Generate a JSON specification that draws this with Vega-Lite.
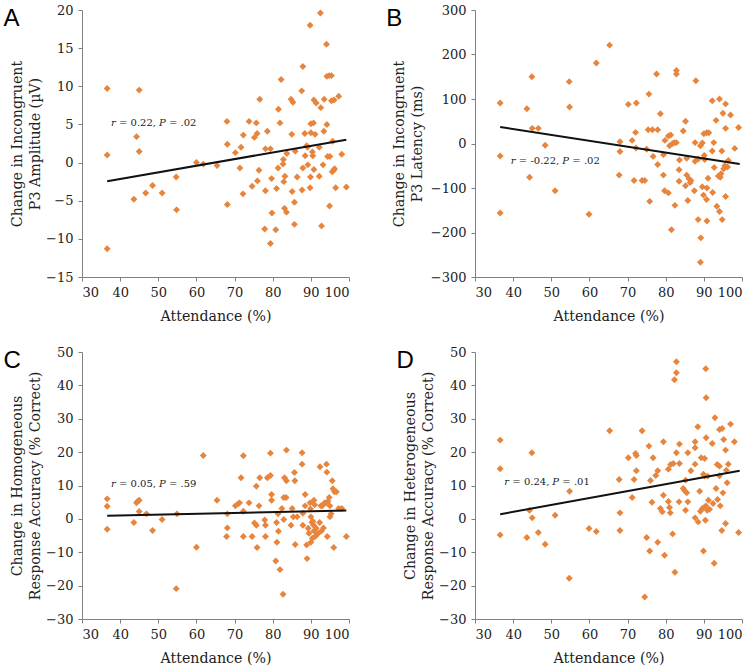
{
  "$schema": "https://vega.github.io/schema/vega-lite/v6.json",
  "background": "white",
  "padding": {"left": 3, "top": 4, "right": 0, "bottom": 0},
  "config": {
    "view": {"stroke": null},
    "axis": {
      "grid": false,
      "domainColor": "#808080",
      "tickColor": "#808080",
      "tickSize": 4,
      "labelFont": "DejaVu Serif",
      "labelFontSize": 13,
      "labelColor": "#222222",
      "titleFont": "DejaVu Serif",
      "titleFontSize": 14.2,
      "titleFontWeight": "normal",
      "titleColor": "#222222",
      "titleLineHeight": 18
    },
    "axisX": {"labelPadding": 5, "titlePadding": 10},
    "axisY": {"labelPadding": 5, "titlePadding": 3.5},
    "title": {"anchor": "start", "frame": "bounds", "font": "Liberation Sans", "fontSize": 24, "fontWeight": "normal", "color": "#000000", "offset": -27},
    "point": {"shape": "diamond", "filled": true, "size": 48, "color": "#e8853d", "opacity": 1},
    "line": {"color": "#111111", "strokeWidth": 2},
    "text": {"font": "DejaVu Serif", "fontSize": 10, "color": "#222222", "align": "left", "baseline": "middle"}
  },
  "datasets": {
    "pointsA": [
      {"attendance":36.6,"change":9.7},{"attendance":36.6,"change":1.0},{"attendance":36.6,"change":-11.3},{"attendance":45.0,"change":9.5},{"attendance":44.3,"change":3.4},{"attendance":45.0,"change":1.45},{"attendance":43.6,"change":-4.8},{"attendance":46.7,"change":-4.0},{"attendance":48.5,"change":-3.0},{"attendance":51.0,"change":-4.0},{"attendance":54.7,"change":-1.9},{"attendance":54.8,"change":-6.2},{"attendance":60.0,"change":0.0},{"attendance":61.8,"change":-0.2},{"attendance":65.4,"change":-0.4},{"attendance":68.0,"change":5.4},{"attendance":68.1,"change":2.4},{"attendance":68.1,"change":-5.5},{"attendance":70.2,"change":1.3},{"attendance":71.4,"change":-0.7},{"attendance":71.7,"change":2.0},{"attendance":72.3,"change":3.6},{"attendance":72.2,"change":-4.1},{"attendance":73.8,"change":5.4},{"attendance":74.6,"change":-3.1},{"attendance":75.2,"change":3.3},{"attendance":75.7,"change":5.2},{"attendance":75.9,"change":3.8},{"attendance":76.0,"change":-2.4},{"attendance":76.4,"change":-1.0},{"attendance":76.6,"change":8.3},{"attendance":77.9,"change":-8.7},{"attendance":78.1,"change":-3.7},{"attendance":78.1,"change":1.8},{"attendance":78.6,"change":4.1},{"attendance":79.4,"change":1.8},{"attendance":79.7,"change":-2.1},{"attendance":79.8,"change":-6.6},{"attendance":79.4,"change":-10.6},{"attendance":80.8,"change":-8.8},{"attendance":81.0,"change":-3.4},{"attendance":81.4,"change":-0.7},{"attendance":81.5,"change":7.0},{"attendance":81.9,"change":5.2},{"attendance":82.2,"change":10.9},{"attendance":82.7,"change":-0.2},{"attendance":82.8,"change":0.4},{"attendance":82.9,"change":-2.5},{"attendance":83.2,"change":-1.8},{"attendance":83.1,"change":-6.0},{"attendance":83.6,"change":-6.5},{"attendance":83.7,"change":1.2},{"attendance":84.8,"change":8.3},{"attendance":85.0,"change":3.7},{"attendance":85.1,"change":-3.8},{"attendance":85.3,"change":7.9},{"attendance":85.7,"change":-5.2},{"attendance":85.7,"change":-8.1},{"attendance":85.9,"change":1.5},{"attendance":86.4,"change":-1.9},{"attendance":87.6,"change":9.4},{"attendance":87.9,"change":12.6},{"attendance":87.7,"change":-3.6},{"attendance":87.9,"change":-0.7},{"attendance":88.4,"change":3.8},{"attendance":88.5,"change":0.9},{"attendance":88.9,"change":2.2},{"attendance":89.1,"change":2.0},{"attendance":89.2,"change":-0.3},{"attendance":89.8,"change":18.0},{"attendance":89.8,"change":-3.3},{"attendance":89.9,"change":-1.9},{"attendance":90.0,"change":3.9},{"attendance":90.0,"change":5.1},{"attendance":90.4,"change":1.4},{"attendance":90.5,"change":0.9},{"attendance":90.7,"change":5.2},{"attendance":90.8,"change":8.2},{"attendance":90.8,"change":-0.9},{"attendance":91.1,"change":3.7},{"attendance":91.4,"change":7.8},{"attendance":92.2,"change":2.0},{"attendance":92.2,"change":-1.8},{"attendance":92.5,"change":19.6},{"attendance":92.6,"change":7.2},{"attendance":92.8,"change":-8.3},{"attendance":93.2,"change":-0.3},{"attendance":93.4,"change":4.1},{"attendance":93.5,"change":8.3},{"attendance":94.1,"change":15.5},{"attendance":94.2,"change":11.3},{"attendance":94.2,"change":5.0},{"attendance":94.4,"change":0.8},{"attendance":94.8,"change":11.4},{"attendance":94.9,"change":-5.7},{"attendance":95.0,"change":0.8},{"attendance":95.4,"change":11.4},{"attendance":95.4,"change":8.1},{"attendance":95.7,"change":2.8},{"attendance":95.6,"change":-1.2},{"attendance":96.0,"change":-1.0},{"attendance":96.2,"change":-0.8},{"attendance":96.5,"change":-3.3},{"attendance":97.3,"change":8.7},{"attendance":98.1,"change":1.1},{"attendance":99.3,"change":-3.2},{"attendance":96.1,"change":8.2}
    ],
    "pointsB": [
      {"attendance":36.6,"change":91},{"attendance":36.6,"change":-28},{"attendance":36.6,"change":-156},{"attendance":43.6,"change":78},{"attendance":44.9,"change":150},{"attendance":44.3,"change":-76},{"attendance":45.0,"change":34},{"attendance":46.6,"change":34},{"attendance":48.4,"change":-4},{"attendance":51.0,"change":-106},{"attendance":54.7,"change":139},{"attendance":54.8,"change":82},{"attendance":59.9,"change":-159},{"attendance":61.8,"change":181},{"attendance":65.3,"change":221},{"attendance":68.0,"change":4},{"attendance":68.0,"change":-18},{"attendance":67.8,"change":-71},{"attendance":70.2,"change":88},{"attendance":71.2,"change":7},{"attendance":71.7,"change":-83},{"attendance":72.3,"change":91},{"attendance":72.1,"change":25},{"attendance":72.2,"change":-10},{"attendance":73.8,"change":-83},{"attendance":74.5,"change":-83},{"attendance":75.0,"change":-13},{"attendance":75.6,"change":111},{"attendance":75.4,"change":31},{"attendance":75.8,"change":-130},{"attendance":76.5,"change":31},{"attendance":76.7,"change":-29},{"attendance":77.6,"change":156},{"attendance":77.9,"change":31},{"attendance":77.9,"change":-47},{"attendance":78.6,"change":67},{"attendance":79.4,"change":-25},{"attendance":79.4,"change":-71},{"attendance":79.8,"change":7},{"attendance":79.7,"change":-106},{"attendance":80.7,"change":17},{"attendance":80.7,"change":-111},{"attendance":81.0,"change":-5},{"attendance":81.3,"change":19},{"attendance":81.5,"change":-194},{"attendance":81.8,"change":0},{"attendance":82.3,"change":2},{"attendance":82.4,"change":-139},{"attendance":82.8,"change":2},{"attendance":82.8,"change":164},{"attendance":82.8,"change":156},{"attendance":83.5,"change":-85},{"attendance":83.5,"change":-59},{"attendance":83.6,"change":-37},{"attendance":84.6,"change":28},{"attendance":85.2,"change":50},{"attendance":85.2,"change":-95},{"attendance":85.5,"change":-33},{"attendance":85.5,"change":-71},{"attendance":85.8,"change":-128},{"attendance":86.1,"change":-79},{"attendance":86.4,"change":-88},{"attendance":86.6,"change":-83},{"attendance":87.5,"change":-106},{"attendance":87.7,"change":-40},{"attendance":87.9,"change":141},{"attendance":87.7,"change":2},{"attendance":88.5,"change":-35},{"attendance":88.5,"change":-171},{"attendance":89.1,"change":-5},{"attendance":89.2,"change":-212},{"attendance":89.1,"change":-267},{"attendance":89.6,"change":-97},{"attendance":89.6,"change":1},{"attendance":89.9,"change":-116},{"attendance":90.0,"change":22},{"attendance":90.1,"change":-27},{"attendance":90.2,"change":-36},{"attendance":90.7,"change":24},{"attendance":90.7,"change":-126},{"attendance":90.8,"change":-100},{"attendance":90.8,"change":-174},{"attendance":91.1,"change":-78},{"attendance":91.3,"change":24},{"attendance":92.2,"change":96},{"attendance":92.2,"change":-17},{"attendance":92.3,"change":-110},{"attendance":92.6,"change":2},{"attendance":92.7,"change":-54},{"attendance":93.2,"change":52},{"attendance":93.4,"change":-141},{"attendance":93.8,"change":-73},{"attendance":94.1,"change":100},{"attendance":94.1,"change":-153},{"attendance":94.3,"change":-76},{"attendance":94.5,"change":-68},{"attendance":94.7,"change":-17},{"attendance":94.8,"change":-171},{"attendance":95.0,"change":68},{"attendance":95.2,"change":-57},{"attendance":95.5,"change":-50},{"attendance":95.7,"change":89},{"attendance":95.7,"change":34},{"attendance":95.7,"change":-119},{"attendance":96.2,"change":-53},{"attendance":96.4,"change":-38},{"attendance":97.0,"change":64},{"attendance":98.1,"change":-11},{"attendance":99.1,"change":36}
    ],
    "pointsC": [
      {"attendance":36.6,"change":6.0},{"attendance":36.6,"change":3.8},{"attendance":36.6,"change":-3.1},{"attendance":43.6,"change":-1.1},{"attendance":44.3,"change":4.8},{"attendance":44.6,"change":5.3},{"attendance":45.0,"change":5.6},{"attendance":45.0,"change":2.2},{"attendance":46.9,"change":1.5},{"attendance":48.5,"change":-3.5},{"attendance":51.0,"change":-0.2},{"attendance":54.9,"change":1.5},{"attendance":54.7,"change":-20.9},{"attendance":60.0,"change":-8.5},{"attendance":61.8,"change":19.0},{"attendance":65.4,"change":5.6},{"attendance":68.1,"change":1.5},{"attendance":68.1,"change":-2.7},{"attendance":67.9,"change":-5.3},{"attendance":70.2,"change":3.9},{"attendance":70.9,"change":4.5},{"attendance":71.3,"change":4.8},{"attendance":71.7,"change":12.3},{"attendance":72.3,"change":18.9},{"attendance":72.3,"change":2.3},{"attendance":72.3,"change":-5.3},{"attendance":73.8,"change":4.8},{"attendance":74.6,"change":-5.3},{"attendance":75.2,"change":-1.2},{"attendance":75.7,"change":9.8},{"attendance":75.7,"change":-1.9},{"attendance":75.9,"change":-8.6},{"attendance":76.4,"change":3.9},{"attendance":76.6,"change":12.3},{"attendance":77.9,"change":-0.3},{"attendance":78.1,"change":-1.9},{"attendance":78.1,"change":-5.3},{"attendance":78.6,"change":12.3},{"attendance":79.4,"change":19.7},{"attendance":79.4,"change":13.0},{"attendance":79.7,"change":7.3},{"attendance":79.7,"change":5.6},{"attendance":80.8,"change":-12.6},{"attendance":81.0,"change":-1.1},{"attendance":81.1,"change":-7.0},{"attendance":81.4,"change":1.5},{"attendance":81.5,"change":-3.7},{"attendance":81.9,"change":-15.2},{"attendance":82.4,"change":3.1},{"attendance":82.7,"change":-22.6},{"attendance":82.9,"change":-0.2},{"attendance":82.9,"change":6.4},{"attendance":83.1,"change":12.3},{"attendance":83.5,"change":6.4},{"attendance":83.6,"change":20.6},{"attendance":83.6,"change":11.4},{"attendance":84.8,"change":-1.9},{"attendance":85.1,"change":3.1},{"attendance":85.4,"change":0.6},{"attendance":85.7,"change":13.9},{"attendance":85.8,"change":11.4},{"attendance":85.9,"change":-7.7},{"attendance":86.4,"change":0.6},{"attendance":87.7,"change":19.8},{"attendance":87.7,"change":16.4},{"attendance":87.9,"change":-1.9},{"attendance":87.9,"change":1.7},{"attendance":88.5,"change":7.3},{"attendance":88.5,"change":3.9},{"attendance":88.9,"change":-7.8},{"attendance":89.0,"change":-11.9},{"attendance":89.3,"change":-2.8},{"attendance":89.5,"change":-4.3},{"attendance":89.8,"change":4.8},{"attendance":89.9,"change":3.0},{"attendance":90.0,"change":-7.0},{"attendance":90.0,"change":0.6},{"attendance":90.3,"change":-1.1},{"attendance":90.4,"change":-5.8},{"attendance":90.5,"change":-0.7},{"attendance":90.7,"change":-1.9},{"attendance":90.8,"change":5.6},{"attendance":90.8,"change":-3.6},{"attendance":91.0,"change":4.2},{"attendance":91.2,"change":-5.2},{"attendance":91.4,"change":-2.8},{"attendance":91.9,"change":-4.4},{"attendance":92.3,"change":-1.1},{"attendance":92.4,"change":15.6},{"attendance":92.6,"change":3.9},{"attendance":92.8,"change":-3.6},{"attendance":93.0,"change":3.9},{"attendance":93.3,"change":-2.7},{"attendance":93.6,"change":4.8},{"attendance":94.0,"change":4.8},{"attendance":94.1,"change":16.4},{"attendance":94.2,"change":14.0},{"attendance":94.3,"change":-5.3},{"attendance":94.5,"change":5.3},{"attendance":94.8,"change":6.4},{"attendance":95.0,"change":0.6},{"attendance":95.0,"change":3.9},{"attendance":95.3,"change":1.5},{"attendance":95.6,"change":11.4},{"attendance":95.8,"change":9.0},{"attendance":96.0,"change":-8.6},{"attendance":96.2,"change":8.1},{"attendance":96.7,"change":8.1},{"attendance":97.3,"change":3.1},{"attendance":98.1,"change":3.1},{"attendance":99.3,"change":-5.3}
    ],
    "pointsD": [
      {"attendance":36.6,"change":23.6},{"attendance":36.6,"change":15.0},{"attendance":36.6,"change":-4.8},{"attendance":43.6,"change":-5.6},{"attendance":44.3,"change":2.6},{"attendance":44.9,"change":19.8},{"attendance":45.0,"change":0.3},{"attendance":46.6,"change":-4.1},{"attendance":48.4,"change":-7.6},{"attendance":51.0,"change":1.1},{"attendance":54.7,"change":-17.8},{"attendance":54.8,"change":8.3},{"attendance":59.9,"change":-2.9},{"attendance":61.8,"change":-3.8},{"attendance":65.3,"change":26.4},{"attendance":67.8,"change":11.8},{"attendance":68.0,"change":1.8},{"attendance":68.0,"change":-3.5},{"attendance":70.2,"change":18.3},{"attendance":71.2,"change":6.4},{"attendance":71.7,"change":11.8},{"attendance":72.1,"change":19.6},{"attendance":72.3,"change":19.0},{"attendance":72.3,"change":14.4},{"attendance":73.8,"change":26.4},{"attendance":75.0,"change":-5.6},{"attendance":75.6,"change":21.8},{"attendance":75.8,"change":-9.6},{"attendance":76.0,"change":11.5},{"attendance":76.4,"change":5.0},{"attendance":76.7,"change":18.3},{"attendance":77.4,"change":13.0},{"attendance":77.9,"change":14.4},{"attendance":77.9,"change":-7.0},{"attendance":74.5,"change":-23.4},{"attendance":79.4,"change":23.1},{"attendance":79.4,"change":7.1},{"attendance":78.6,"change":3.1},{"attendance":79.1,"change":2.1},{"attendance":79.7,"change":-10.9},{"attendance":80.7,"change":14.9},{"attendance":80.7,"change":5.2},{"attendance":81.0,"change":3.4},{"attendance":81.2,"change":1.8},{"attendance":81.3,"change":16.3},{"attendance":81.8,"change":-4.5},{"attendance":82.0,"change":16.6},{"attendance":82.3,"change":41.7},{"attendance":82.8,"change":43.8},{"attendance":82.8,"change":47.1},{"attendance":82.8,"change":19.8},{"attendance":82.4,"change":-16.0},{"attendance":83.5,"change":5.1},{"attendance":83.6,"change":16.6},{"attendance":83.6,"change":22.4},{"attendance":84.6,"change":9.1},{"attendance":85.0,"change":8.4},{"attendance":85.2,"change":11.6},{"attendance":85.2,"change":2.6},{"attendance":85.5,"change":7.8},{"attendance":85.8,"change":19.8},{"attendance":85.8,"change":5.1},{"attendance":86.6,"change":14.4},{"attendance":87.7,"change":23.1},{"attendance":87.7,"change":21.3},{"attendance":87.7,"change":16.4},{"attendance":87.7,"change":0.3},{"attendance":88.4,"change":27.6},{"attendance":88.5,"change":-0.9},{"attendance":88.9,"change":8.3},{"attendance":89.1,"change":2.3},{"attendance":89.3,"change":18.3},{"attendance":89.6,"change":3.1},{"attendance":89.9,"change":-9.6},{"attendance":89.9,"change":13.4},{"attendance":90.2,"change":18.1},{"attendance":90.2,"change":12.8},{"attendance":90.4,"change":-0.4},{"attendance":90.5,"change":3.9},{"attendance":90.5,"change":45.0},{"attendance":90.6,"change":36.3},{"attendance":90.6,"change":24.3},{"attendance":90.9,"change":2.6},{"attendance":91.0,"change":12.8},{"attendance":91.2,"change":5.6},{"attendance":91.5,"change":2.9},{"attendance":92.2,"change":22.6},{"attendance":92.4,"change":4.6},{"attendance":92.7,"change":-13.3},{"attendance":92.9,"change":30.3},{"attendance":93.2,"change":9.1},{"attendance":93.5,"change":16.3},{"attendance":93.6,"change":5.8},{"attendance":94.1,"change":15.8},{"attendance":94.1,"change":12.9},{"attendance":94.1,"change":26.8},{"attendance":94.3,"change":3.9},{"attendance":94.7,"change":-3.5},{"attendance":94.8,"change":27.1},{"attendance":95.0,"change":7.8},{"attendance":95.2,"change":23.8},{"attendance":95.7,"change":20.6},{"attendance":95.7,"change":-1.4},{"attendance":95.9,"change":14.6},{"attendance":96.1,"change":10.8},{"attendance":96.4,"change":16.4},{"attendance":97.0,"change":28.4},{"attendance":98.0,"change":23.1},{"attendance":99.1,"change":-4.1}
    ],
    "fitA": [{"attendance":36.6,"change":-2.45},{"attendance":99.3,"change":3.0}],
    "fitB": [{"attendance":36.6,"change":37},{"attendance":99.4,"change":-46}],
    "fitC": [{"attendance":36.6,"change":0.9},{"attendance":99.3,"change":2.5}],
    "fitD": [{"attendance":36.6,"change":1.4},{"attendance":99.4,"change":14.4}],
    "noteA": [{"attendance":37.6,"change":5.2,"r":"r","rv":"= 0.22,","p":"P","pv":"= .02"}],
    "noteB": [{"attendance":39.4,"change":-40,"r":"r","rv":"= -0.22,","p":"P","pv":"= .02"}],
    "noteC": [{"attendance":37.6,"change":10.3,"r":"r","rv":"= 0.05,","p":"P","pv":"= .59"}],
    "noteD": [{"attendance":37.7,"change":11.1,"r":"r","rv":"= 0.24,","p":"P","pv":"= .01"}]
  },
  "concat": [
    {
      "title": {"text": "A", "dx": -6.5},
      "width": 267, "height": 267,
      "encoding": {
        "x": {"field": "attendance", "type": "quantitative", "scale": {"domain": [30, 100], "nice": false, "zero": false}, "axis": {"values": [30,40,50,60,70,80,90,100], "title": "Attendance (%)"}},
        "y": {"field": "change", "type": "quantitative", "scale": {"domain": [-15, 20], "nice": false, "zero": false}, "axis": {"values": [-15,-10,-5,0,5,10,15,20], "title": ["Change in Incongruent", "P3 Amplitude (µV)"]}}
      },
      "layer": [
        {"data": {"name": "pointsA"}, "mark": {"type": "point"}},
        {"data": {"name": "fitA"}, "mark": {"type": "line"}},
        {"data": {"name": "noteA"}, "mark": {"type": "text", "fontStyle": "italic"}, "encoding": {"text": {"field": "r"}}},
        {"data": {"name": "noteA"}, "mark": {"type": "text", "dx": 8}, "encoding": {"text": {"field": "rv"}}},
        {"data": {"name": "noteA"}, "mark": {"type": "text", "fontStyle": "italic", "dx": 48}, "encoding": {"text": {"field": "p"}}},
        {"data": {"name": "noteA"}, "mark": {"type": "text", "dx": 58}, "encoding": {"text": {"field": "pv"}}}
      ]
    },
    {
      "title": {"text": "B", "dx": -6.5},
      "width": 267, "height": 267,
      "encoding": {
        "x": {"field": "attendance", "type": "quantitative", "scale": {"domain": [30, 100], "nice": false, "zero": false}, "axis": {"values": [30,40,50,60,70,80,90,100], "title": "Attendance (%)"}},
        "y": {"field": "change", "type": "quantitative", "scale": {"domain": [-300, 300], "nice": false, "zero": false}, "axis": {"values": [-300,-200,-100,0,100,200,300], "title": ["Change in Incongruent", "P3 Latency (ms)"], "titlePadding": 5.5}}
      },
      "layer": [
        {"data": {"name": "pointsB"}, "mark": {"type": "point"}},
        {"data": {"name": "fitB"}, "mark": {"type": "line"}},
        {"data": {"name": "noteB"}, "mark": {"type": "text", "fontStyle": "italic"}, "encoding": {"text": {"field": "r"}}},
        {"data": {"name": "noteB"}, "mark": {"type": "text", "dx": 8}, "encoding": {"text": {"field": "rv"}}},
        {"data": {"name": "noteB"}, "mark": {"type": "text", "fontStyle": "italic", "dx": 51.5}, "encoding": {"text": {"field": "p"}}},
        {"data": {"name": "noteB"}, "mark": {"type": "text", "dx": 61.5}, "encoding": {"text": {"field": "pv"}}}
      ]
    },
    {
      "title": {"text": "C", "dx": -6.5},
      "width": 267, "height": 267,
      "encoding": {
        "x": {"field": "attendance", "type": "quantitative", "scale": {"domain": [30, 100], "nice": false, "zero": false}, "axis": {"values": [30,40,50,60,70,80,90,100], "title": "Attendance (%)"}},
        "y": {"field": "change", "type": "quantitative", "scale": {"domain": [-30, 50], "nice": false, "zero": false}, "axis": {"values": [-30,-20,-10,0,10,20,30,40,50], "title": ["Change in Homogeneous", "Response Accuracy (% Correct)"]}}
      },
      "layer": [
        {"data": {"name": "pointsC"}, "mark": {"type": "point"}},
        {"data": {"name": "fitC"}, "mark": {"type": "line"}},
        {"data": {"name": "noteC"}, "mark": {"type": "text", "fontStyle": "italic"}, "encoding": {"text": {"field": "r"}}},
        {"data": {"name": "noteC"}, "mark": {"type": "text", "dx": 8}, "encoding": {"text": {"field": "rv"}}},
        {"data": {"name": "noteC"}, "mark": {"type": "text", "fontStyle": "italic", "dx": 48}, "encoding": {"text": {"field": "p"}}},
        {"data": {"name": "noteC"}, "mark": {"type": "text", "dx": 58}, "encoding": {"text": {"field": "pv"}}}
      ]
    },
    {
      "title": {"text": "D", "dx": -6.5},
      "width": 267, "height": 267,
      "encoding": {
        "x": {"field": "attendance", "type": "quantitative", "scale": {"domain": [30, 100], "nice": false, "zero": false}, "axis": {"values": [30,40,50,60,70,80,90,100], "title": "Attendance (%)"}},
        "y": {"field": "change", "type": "quantitative", "scale": {"domain": [-30, 50], "nice": false, "zero": false}, "axis": {"values": [-30,-20,-10,0,10,20,30,40,50], "title": ["Change in Heterogeneous", "Response Accuracy (% Correct)"]}}
      },
      "layer": [
        {"data": {"name": "pointsD"}, "mark": {"type": "point"}},
        {"data": {"name": "fitD"}, "mark": {"type": "line"}},
        {"data": {"name": "noteD"}, "mark": {"type": "text", "fontStyle": "italic"}, "encoding": {"text": {"field": "r"}}},
        {"data": {"name": "noteD"}, "mark": {"type": "text", "dx": 8}, "encoding": {"text": {"field": "rv"}}},
        {"data": {"name": "noteD"}, "mark": {"type": "text", "fontStyle": "italic", "dx": 48}, "encoding": {"text": {"field": "p"}}},
        {"data": {"name": "noteD"}, "mark": {"type": "text", "dx": 58}, "encoding": {"text": {"field": "pv"}}}
      ]
    }
  ],
  "columns": 2,
  "spacing": {"row": 75, "column": 126},
  "bounds": "flush",
  "resolve": {"scale": {"x": "independent", "y": "independent"}}
}
